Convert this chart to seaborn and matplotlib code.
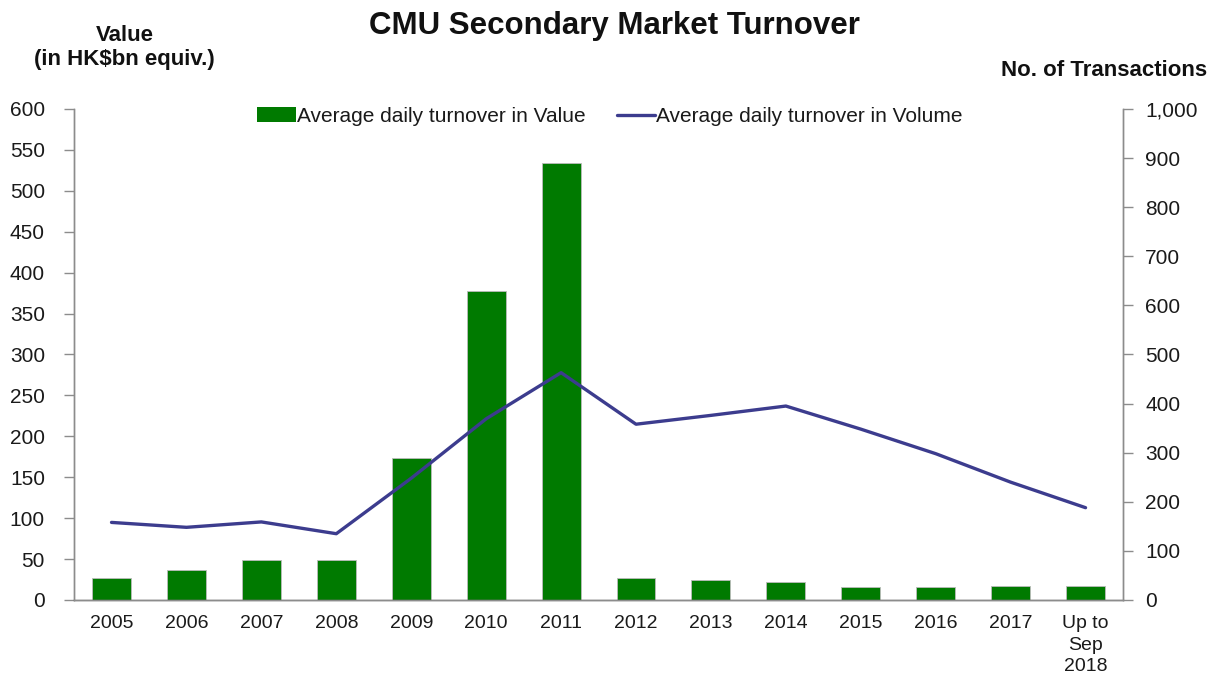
import numpy as np
import pandas as pd
import matplotlib
matplotlib.use("Agg")
import matplotlib.pyplot as plt
import seaborn as sns
from matplotlib.ticker import FuncFormatter, MultipleLocator
from matplotlib.patches import Patch
from matplotlib.lines import Line2D

categories = ["2005", "2006", "2007", "2008", "2009", "2010", "2011", "2012",
              "2013", "2014", "2015", "2016", "2017", "Up to\nSep\n2018"]
value_bn = [27, 37, 49, 49, 173, 377, 534, 26.5, 24, 22.5, 16, 16, 17.5, 17.5]
volume_tx = [158, 148, 159, 135, 248, 369, 463, 358, 376, 395, 348, 298, 240, 188]

bar_label = "Average daily turnover in Value"
line_label = "Average daily turnover in Volume"
title = "CMU Secondary Market Turnover"
left_label = "Value\n(in HK$bn equiv.)"
right_label = "No. of Transactions"

green = "#007A00"
navy = "#3C3C8E"
spine_c = "#8C8C8C"
text_c = "#1A1A1A"

sns.set_style("white")
plt.rcParams["font.family"] = ["Liberation Sans", "DejaVu Sans"]

fig = plt.figure(figsize=(12.24, 6.74), dpi=100)
ax = fig.add_axes([0.0605, 0.1098, 0.857, 0.7285])

df = pd.DataFrame({"cat": categories, "value": value_bn, "volume": volume_tx})
sns.barplot(data=df, x="cat", y="value", ax=ax, color=green, width=0.52,
            edgecolor="#BBBBBB", linewidth=0.6, saturation=1)
ax.set_xlim(-0.5, len(categories) - 0.5)
ax.set_ylim(0, 600)
ax.yaxis.set_major_locator(MultipleLocator(50))
ax.set_xlabel("")
ax.set_ylabel("")

ax2 = ax.twinx()
df["pos"] = np.arange(len(categories))
sns.lineplot(data=df, x="pos", y="volume", ax=ax2, color=navy, linewidth=2.4)
ax2.set_ylim(0, 1000)
ax2.yaxis.set_major_locator(MultipleLocator(100))
ax2.yaxis.set_major_formatter(FuncFormatter(lambda v, p: f"{int(v):,}"))
ax2.set_xlim(-0.5, len(categories) - 0.5)
ax2.set_xlabel("")
ax2.set_ylabel("")

for a in (ax, ax2):
    for s in a.spines.values():
        s.set_color(spine_c)
        s.set_linewidth(1.0)
    a.spines["top"].set_visible(False)
    a.tick_params(axis="y", length=7, width=1, color=spine_c, labelsize=15,
                  labelcolor=text_c)
ax.spines["bottom"].set_color("#555555")
ax.tick_params(axis="y", left=True, direction="out", pad=14)
ax2.tick_params(axis="y", right=True, direction="out", pad=9)
ax.tick_params(axis="x", length=0, labelsize=14, labelcolor=text_c, pad=11)
for lbl in ax.get_xticklabels():
    lbl.set_linespacing(1.35)
ax2.grid(False)
ax.grid(False)

handles = [Patch(facecolor=green, edgecolor="none"),
           Line2D([0], [0], color=navy, linewidth=2.4)]
ax2.legend(handles, [bar_label, line_label], loc="center",
           bbox_to_anchor=(0.511, 0.985), ncol=2, frameon=False, fontsize=15,
           handlelength=1.85, handletextpad=0.05, columnspacing=1.5,
           labelcolor=text_c)

fig.text(0.502, 0.962, title, ha="center", va="center", fontsize=22.5,
         fontweight="bold", color="#111111")
fig.text(0.102, 0.929, left_label, ha="center", va="center", fontsize=16,
         fontweight="bold", color="#111111", multialignment="center",
         linespacing=1.2)
fig.text(0.986, 0.896, right_label, ha="right", va="center", fontsize=16,
         fontweight="bold", color="#111111")

fig.savefig("out.png", dpi=100)
